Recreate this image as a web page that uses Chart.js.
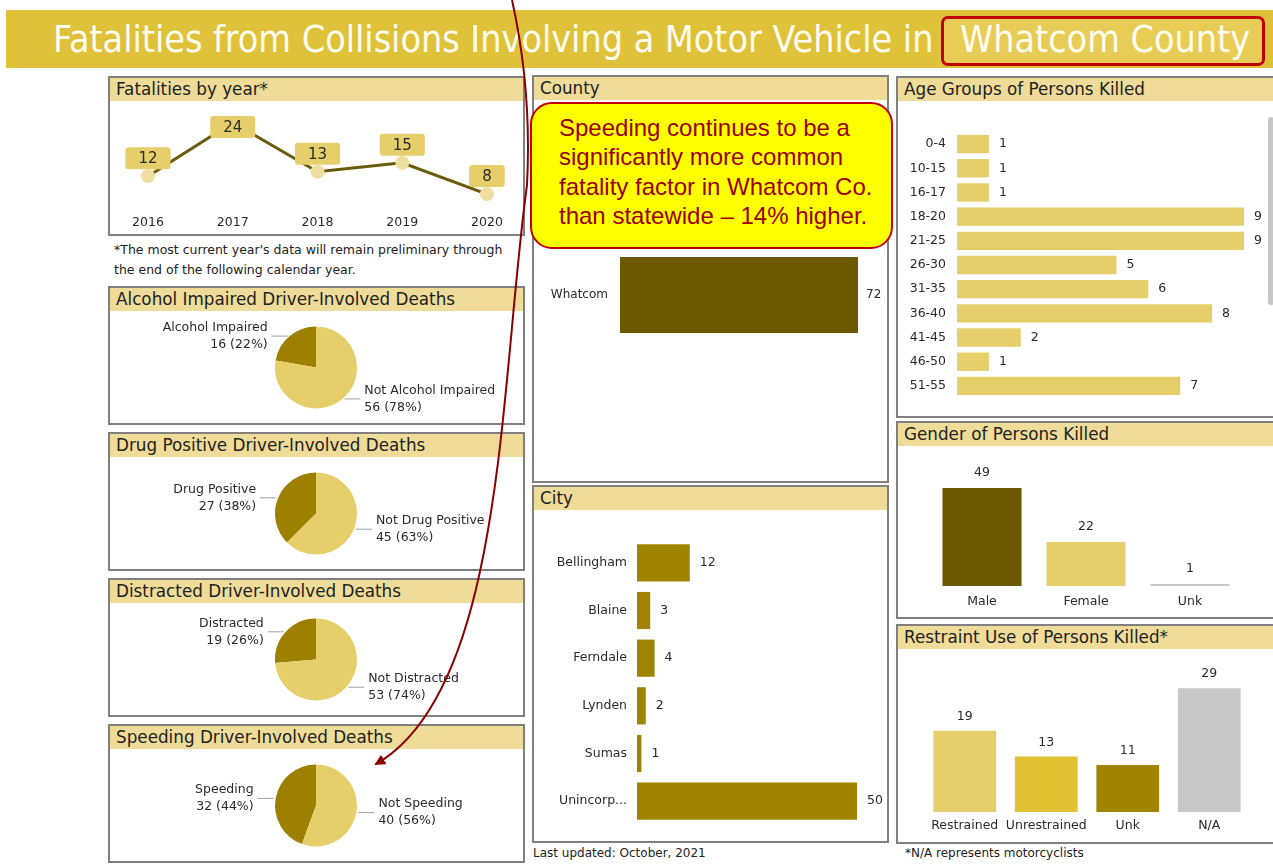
<!DOCTYPE html>
<html><head><meta charset="utf-8">
<script src="https://cdn.jsdelivr.net/npm/chart.js@4.4.0/dist/chart.umd.min.js"></script>
<style>
html,body{margin:0;padding:0}
body{width:1273px;height:867px;overflow:hidden;background:#fff;font-family:"DejaVu Sans",sans-serif;position:relative;color:#222}
.band{position:absolute;left:6px;top:10px;width:1267px;height:58px;background:#DFC13A}
.title{position:absolute;left:53px;top:10px;height:58px;line-height:58px;font-family:"DejaVu Sans Condensed","DejaVu Sans",sans-serif;font-size:37.3px;color:#FFFDF0;white-space:nowrap}
.wbox{position:absolute;left:941px;top:16px;width:324px;height:50px;box-sizing:border-box;border:3px solid #C00000;border-radius:7px;background:#E8CC55}
.wtext{position:absolute;left:960px;top:10px;height:58px;line-height:58px;font-family:"DejaVu Sans Condensed","DejaVu Sans",sans-serif;font-size:37.3px;color:#FFFDF0;white-space:nowrap}
.panel{position:absolute;border:2px solid #808080;box-sizing:border-box;background:#fff;overflow:hidden}
.ph{position:absolute;left:0;right:0;top:0;height:23px;background:#EEDC98;color:#222;font-size:16.8px;line-height:23px;padding-left:6px;white-space:nowrap}
canvas{position:absolute}
.note{position:absolute;font-size:12.5px;color:#222;white-space:nowrap}
.callout{position:absolute;left:530px;top:102px;width:363px;height:147px;box-sizing:border-box;border:2.5px solid #C00000;border-radius:22px;background:#FFFF00;z-index:5}
.ctext{position:absolute;left:27px;top:9px;font-family:"Liberation Sans",Arial,sans-serif;font-size:24px;line-height:29.3px;color:#990000;white-space:nowrap}
.scroll{position:absolute;left:1268px;top:117px;width:6px;height:188px;background:#C8C8C8;border-radius:3px}
svg{position:absolute;left:0;top:0;z-index:10}
</style></head>
<body>
<div class="band"></div>
<div class="title">Fatalities from Collisions Involving a Motor Vehicle in</div>
<div class="wbox"></div>
<div class="wtext">Whatcom County</div>

<div class="panel" style="left:108px;top:76px;width:417px;height:160px"><div class="ph">Fatalities by year*</div></div>
<div class="note" style="left:114px;top:242px">*The most current year's data will remain preliminary through</div>
<div class="note" style="left:114px;top:262px">the end of the following calendar year.</div>
<div class="panel" style="left:108px;top:286px;width:417px;height:139px"><div class="ph">Alcohol Impaired Driver-Involved Deaths</div></div>
<div class="panel" style="left:108px;top:432px;width:417px;height:139px"><div class="ph">Drug Positive Driver-Involved Deaths</div></div>
<div class="panel" style="left:108px;top:578px;width:417px;height:139px"><div class="ph">Distracted Driver-Involved Deaths</div></div>
<div class="panel" style="left:108px;top:724px;width:417px;height:139px"><div class="ph">Speeding Driver-Involved Deaths</div></div>

<div class="panel" style="left:532px;top:75px;width:357px;height:408px"><div class="ph">County</div></div>
<div class="panel" style="left:532px;top:485px;width:357px;height:358px"><div class="ph">City</div></div>
<div class="note" style="left:533px;top:846px;font-size:12px">Last updated: October, 2021</div>

<div class="panel" style="left:896px;top:76px;width:390px;height:342px"><div class="ph">Age Groups of Persons Killed</div></div>
<div class="scroll"></div>
<div class="panel" style="left:896px;top:421px;width:390px;height:198px"><div class="ph">Gender of Persons Killed</div></div>
<div class="panel" style="left:896px;top:624px;width:390px;height:220px"><div class="ph">Restraint Use of Persons Killed*</div></div>
<div class="note" style="left:905px;top:846px;font-size:12px">*N/A represents motorcyclists</div>

<div class="callout"><div class="ctext">Speeding continues to be a<br>significantly more common<br>fatality factor in Whatcom Co.<br>than statewide – 14% higher.</div></div>

<svg width="1273" height="867" viewBox="0 0 1273 867">
  <defs>
    <marker id="ah" markerWidth="11" markerHeight="11" refX="9" refY="5.5" orient="auto" markerUnits="userSpaceOnUse">
      <path d="M0,0 L11,5.5 L0,11 z" fill="#8B0000"/>
    </marker>
  </defs>
  <path d="M512,0 Q532,90 527,185 C500,380 505,690 376,764" fill="none" stroke="#8B0000" stroke-width="2" marker-end="url(#ah)"/>
</svg>

<script>
// ---------- DATA ----------
const years = ['2016', '2017', '2018', '2019', '2020'];
const yearValues = [12, 24, 13, 15, 8];

const alcoholLabels = ['Alcohol Impaired', 'Not Alcohol Impaired'];
const alcoholValues = [16, 56];
const drugLabels = ['Drug Positive', 'Not Drug Positive'];
const drugValues = [27, 45];
const distractedLabels = ['Distracted', 'Not Distracted'];
const distractedValues = [19, 53];
const speedingLabels = ['Speeding', 'Not Speeding'];
const speedingValues = [32, 40];

const countyLabels = ['Whatcom'];
const countyValues = [72];

const cityLabels = ['Bellingham', 'Blaine', 'Ferndale', 'Lynden', 'Sumas', 'Unincorp...'];
const cityValues = [12, 3, 4, 2, 1, 50];

const ageLabels = ['0-4', '10-15', '16-17', '18-20', '21-25', '26-30', '31-35', '36-40', '41-45', '46-50', '51-55'];
const ageValues = [1, 1, 1, 9, 9, 5, 6, 8, 2, 1, 7];

const genderLabels = ['Male', 'Female', 'Unk'];
const genderValues = [49, 22, 1];

const restraintLabels = ['Restrained', 'Unrestrained', 'Unk', 'N/A'];
const restraintValues = [19, 13, 11, 29];

// ---------- STYLE ----------
const DARK = '#6B5800', GOLD = '#A08400', LIGHT = '#E6CE6A', MID = '#E0C232', GRAY = '#C8C8C8', PIE_DARK = '#9E8000';
const FONT = '"DejaVu Sans", sans-serif';
const TXT = '#2a2a2a';

function mk(left, top, w, h) {
  const c = document.createElement('canvas');
  c.width = w; c.height = h;
  c.style.left = left + 'px'; c.style.top = top + 'px';
  c.style.width = w + 'px'; c.style.height = h + 'px';
  c.style.zIndex = 2;
  document.body.appendChild(c);
  return c;
}
const base = { responsive: false, animation: false, devicePixelRatio: 1,
  events: [], plugins: { legend: { display: false }, tooltip: { enabled: false } } };

// ---------- PLUGINS ----------
const lineLabels = { id: 'lineLabels', afterDatasetsDraw(chart) {
  const ctx = chart.ctx, meta = chart.getDatasetMeta(0), a = chart.chartArea, vals = chart.data.datasets[0].data;
  ctx.save();
  ctx.font = '15px ' + FONT; ctx.textAlign = 'center'; ctx.textBaseline = 'middle';
  meta.data.forEach((pt, i) => {
    const t = String(vals[i]); const w = ctx.measureText(t).width + 26, h = 22;
    const cy = Math.max(pt.y - 18, a.top + h / 2 + 7);
    ctx.fillStyle = '#E6CE6A';
    ctx.beginPath(); ctx.roundRect(pt.x - w / 2, cy - h / 2, w, h, 3); ctx.fill();
    ctx.fillStyle = TXT; ctx.fillText(t, pt.x, cy + 1);
  });
  ctx.font = '12.5px ' + FONT; ctx.fillStyle = TXT;
  chart.data.labels.forEach((l, i) => ctx.fillText(l, meta.data[i].x, a.bottom + 11));
  ctx.restore();
}};

const pieText = { id: 'pieText', afterDatasetsDraw(chart) {
  const ctx = chart.ctx, meta = chart.getDatasetMeta(0), ds = chart.data.datasets[0].data;
  const tot = ds.reduce((s, v) => s + v, 0);
  ctx.save();
  ctx.font = '12.5px ' + FONT; ctx.textBaseline = 'middle';
  meta.data.forEach((arc, i) => {
    const p = arc.getProps(['x', 'y', 'outerRadius', 'startAngle', 'endAngle'], true);
    const mid = (p.startAngle + p.endAngle) / 2;
    const dy = p.outerRadius * Math.sin(mid);
    const left = Math.cos(mid) < 0, s = left ? -1 : 1;
    const ex = Math.sqrt(Math.max(p.outerRadius * p.outerRadius - dy * dy, 0));
    const y = p.y + dy;
    const x0 = p.x + s * (ex + 2), x1 = p.x + s * (ex + 18);
    ctx.strokeStyle = '#A0A0A0'; ctx.lineWidth = 1;
    ctx.beginPath(); ctx.moveTo(x0, y); ctx.lineTo(x1, y); ctx.stroke();
    ctx.fillStyle = TXT; ctx.textAlign = left ? 'right' : 'left';
    const pct = Math.round(ds[i] / tot * 100);
    ctx.fillText(chart.data.labels[i], x1 + s * 4, y - 8.5);
    ctx.fillText(ds[i] + ' (' + pct + '%)', x1 + s * 4, y + 8.5);
  });
  ctx.restore();
}};

const barText = { id: 'barText', afterDatasetsDraw(chart, args, o) {
  const ctx = chart.ctx, meta = chart.getDatasetMeta(0), a = chart.chartArea, ds = chart.data.datasets[0].data;
  const horiz = chart.options.indexAxis === 'y';
  ctx.save();
  ctx.font = o.size + 'px ' + FONT; ctx.fillStyle = TXT; ctx.textBaseline = 'middle';
  meta.data.forEach((bar, i) => {
    if (horiz) {
      ctx.textAlign = 'right'; ctx.fillText(chart.data.labels[i], a.left - o.catGap, bar.y);
      ctx.textAlign = 'left'; ctx.fillText(String(ds[i]), bar.x + o.valGap, bar.y);
    } else {
      ctx.textAlign = 'center';
      ctx.fillText(String(ds[i]), bar.x, bar.y - o.valGap);
      ctx.fillText(chart.data.labels[i], bar.x, a.bottom + o.catGap);
    }
  });
  ctx.restore();
}};

// ---------- LINE ----------
new Chart(mk(110, 102, 412, 132), {
  type: 'line',
  data: { labels: years, datasets: [{ data: yearValues, borderColor: '#6B5A0A', borderWidth: 3,
    pointRadius: 7, pointBackgroundColor: '#EEDFA0', pointBorderWidth: 0, tension: 0 }] },
  options: Object.assign({}, base, {
    layout: { padding: { left: 38, right: 35, top: 5, bottom: 22 } },
    scales: { x: { display: false }, y: { display: false, min: 4, max: 27 } }
  }),
  plugins: [lineLabels]
});

// ---------- PIES ----------
function pie(top, labels, values) {
  const tot = values.reduce((s, v) => s + v, 0);
  new Chart(mk(110, top, 412, 111), {
    type: 'pie',
    data: { labels, datasets: [{ data: values, backgroundColor: [PIE_DARK, LIGHT], borderWidth: 0 }] },
    options: Object.assign({}, base, {
      rotation: -values[0] / tot * 360,
      layout: { padding: { top: 14.5, bottom: 14.5 } }
    }),
    plugins: [pieText]
  });
}
pie(312, alcoholLabels, alcoholValues);
pie(458, drugLabels, drugValues);
pie(604, distractedLabels, distractedValues);
pie(750, speedingLabels, speedingValues);

// ---------- BARS ----------
function bars(box, labels, values, colors, o) {
  new Chart(mk(box[0], box[1], box[2], box[3]), {
    type: 'bar',
    data: { labels, datasets: [{ data: values, backgroundColor: colors, barPercentage: o.bp, categoryPercentage: 1 }] },
    options: Object.assign({}, base, {
      indexAxis: o.horiz ? 'y' : 'x',
      layout: { padding: o.pad },
      scales: o.horiz
        ? { x: { display: false, min: 0, max: o.max }, y: { display: false } }
        : { y: { display: false, min: 0, max: o.max }, x: { display: false } },
      plugins: Object.assign({}, base.plugins, { barText: { size: o.size, catGap: o.catGap, valGap: o.valGap } })
    }),
    plugins: [barText]
  });
}
bars([534, 101, 352, 380], countyLabels, countyValues, DARK,
  { horiz: true, bp: 0.38, max: 72, pad: { left: 86, right: 28, top: 94, bottom: 86 }, size: 12, catGap: 12, valGap: 8 });
bars([534, 511, 352, 330], cityLabels, cityValues, GOLD,
  { horiz: true, bp: 0.78, max: 50, pad: { left: 103, right: 29, top: 28, bottom: 16 }, size: 12.5, catGap: 10, valGap: 10 });
bars([898, 101, 374, 315], ageLabels, ageValues, LIGHT,
  { horiz: true, bp: 0.76, max: 9, pad: { left: 59, right: 28, top: 31, bottom: 18 }, size: 12.5, catGap: 11, valGap: 10 });
bars([898, 446, 374, 171], genderLabels, genderValues, [DARK, LIGHT, GRAY],
  { horiz: false, bp: 0.76, max: 60, pad: { left: 32, right: 30, top: 20, bottom: 31 }, size: 12.5, catGap: 16, valGap: 15 });
bars([898, 649, 374, 193], restraintLabels, restraintValues, [LIGHT, MID, GOLD, GRAY],
  { horiz: false, bp: 0.77, max: 35, pad: { left: 26, right: 22, top: 13.5, bottom: 30 }, size: 12.5, catGap: 14, valGap: 14 });
</script>
</body></html>
